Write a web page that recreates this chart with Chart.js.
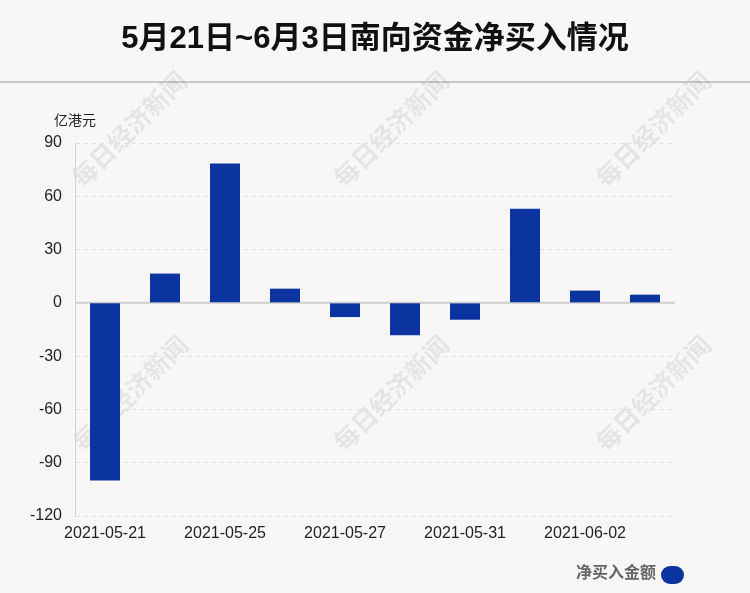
<!DOCTYPE html>
<html>
<head>
<meta charset="utf-8">
<script src="https://cdn.jsdelivr.net/npm/chart.js@4/dist/chart.umd.min.js"></script>
<style>
	html, body { margin: 0; padding: 0; background: #f9f6f7; }
	canvas { display: block; }
</style>
</head>
<body>
<canvas id="myChart" width="750" height="593"></canvas>
<script>
var titleText = "5月21日~6月3日南向资金净买入情况";
var unitText = "亿港元";
var seriesName = "净买入金额";
var dates = ["2021-05-21", "2021-05-24", "2021-05-25", "2021-05-26", "2021-05-27",
	"2021-05-28", "2021-05-31", "2021-06-01", "2021-06-02", "2021-06-03"];
var netBuy = [-100.0, 16.5, 78.4, 8.0, -8.0, -18.3, -9.5, 53.0, 6.9, 4.6];
var yTicks = [90, 60, 30, 0, -30, -60, -90, -120];

var barColor = "#0c34a0";
var fontLatin = '"Liberation Sans", Arial, "Noto Sans CJK SC", sans-serif';
var fontCjk = '"Liberation Sans", "Noto Sans CJK SC", sans-serif';

// background, header, unit label, watermarks, legend
var decor = {
	id: "decor",
	beforeDraw: function(chart) {
		var c = chart.ctx;
		c.save();
		c.fillStyle = "#f9f6f7";
		c.fillRect(0, 0, chart.width, chart.height);

		c.fillStyle = "#c9c7c8";
		c.fillRect(0, 81, chart.width, 2);

		c.fillStyle = "#111";
		c.font = "bold 31px " + fontCjk;
		c.textAlign = "center";
		c.textBaseline = "middle";
		c.fillText(titleText, 375, 39);

		// watermarks
		c.fillStyle = "rgba(0,0,0,0.075)";
		c.font = "bold 25px " + fontCjk;
		var marks = [[131, 131], [393, 131], [655, 131], [132, 395], [393, 395], [655, 395]];
		for (var i = 0; i < marks.length; i++) {
			c.save();
			c.translate(marks[i][0], marks[i][1]);
			c.rotate(-Math.PI / 4);
			c.fillText("每日经济新闻", 0, 0);
			c.restore();
		}

		c.fillStyle = "#222";
		c.font = "14px " + fontCjk;
		c.textAlign = "left";
		c.fillText(unitText, 54, 121);

		// legend
		c.fillStyle = "#666";
		c.font = "bold 16px " + fontCjk;
		c.textAlign = "right";
		c.fillText(seriesName, 656, 574);
		c.fillStyle = barColor;
		c.beginPath();
		c.roundRect(661, 566, 23, 18, 9);
		c.fill();
		c.restore();
	},
	beforeDatasetsDraw: function(chart) {
		var c = chart.ctx;
		var y0 = chart.scales.y.getPixelForValue(0);
		c.save();
		c.strokeStyle = "#cfcdce";
		c.lineWidth = 2;
		c.beginPath();
		c.moveTo(chart.chartArea.left, y0);
		c.lineTo(chart.chartArea.right, y0);
		c.stroke();
		c.restore();
	}
};

var ctx = document.getElementById("myChart").getContext("2d");
var chart = new Chart(ctx, {
	type: "bar",
	data: {
		labels: dates,
		datasets: [{
			label: seriesName,
			data: netBuy,
			backgroundColor: barColor,
			barPercentage: 0.5,
			categoryPercentage: 1.0
		}]
	},
	options: {
		responsive: false,
		animation: false,
		devicePixelRatio: 1,
		layout: { padding: { top: 143, right: 75, bottom: 0, left: 0 } },
		plugins: {
			legend: { display: false },
			title: { display: false },
			tooltip: { enabled: false }
		},
		scales: {
			x: {
				grid: { display: false, drawTicks: false },
				border: { display: false },
				ticks: {
					autoSkip: false,
					maxRotation: 0,
					padding: 8,
					color: "#222",
					font: { size: 16, family: fontLatin },
					callback: function(v, i) { return i % 2 === 0 ? dates[i] : ""; }
				},
				afterFit: function(scale) { scale.height = 77; }
			},
			y: {
				min: -120,
				max: 90,
				afterBuildTicks: function(scale) {
					scale.ticks = yTicks.map(function(v) { return { value: v }; });
				},
				grid: {
					drawTicks: false,
					color: function(c) { return c.tick && c.tick.value === 0 ? "rgba(0,0,0,0)" : "#e3dfe0"; },
					lineWidth: 1
				},
				border: { display: true, color: "#d3d1d2", width: 1, dash: [4, 4] },
				ticks: {
					padding: 13,
					color: "#222",
					font: { size: 16, family: fontLatin }
				},
				afterFit: function(scale) { scale.width = 75; }
			}
		}
	},
	plugins: [decor]
});
</script>
</body>
</html>
